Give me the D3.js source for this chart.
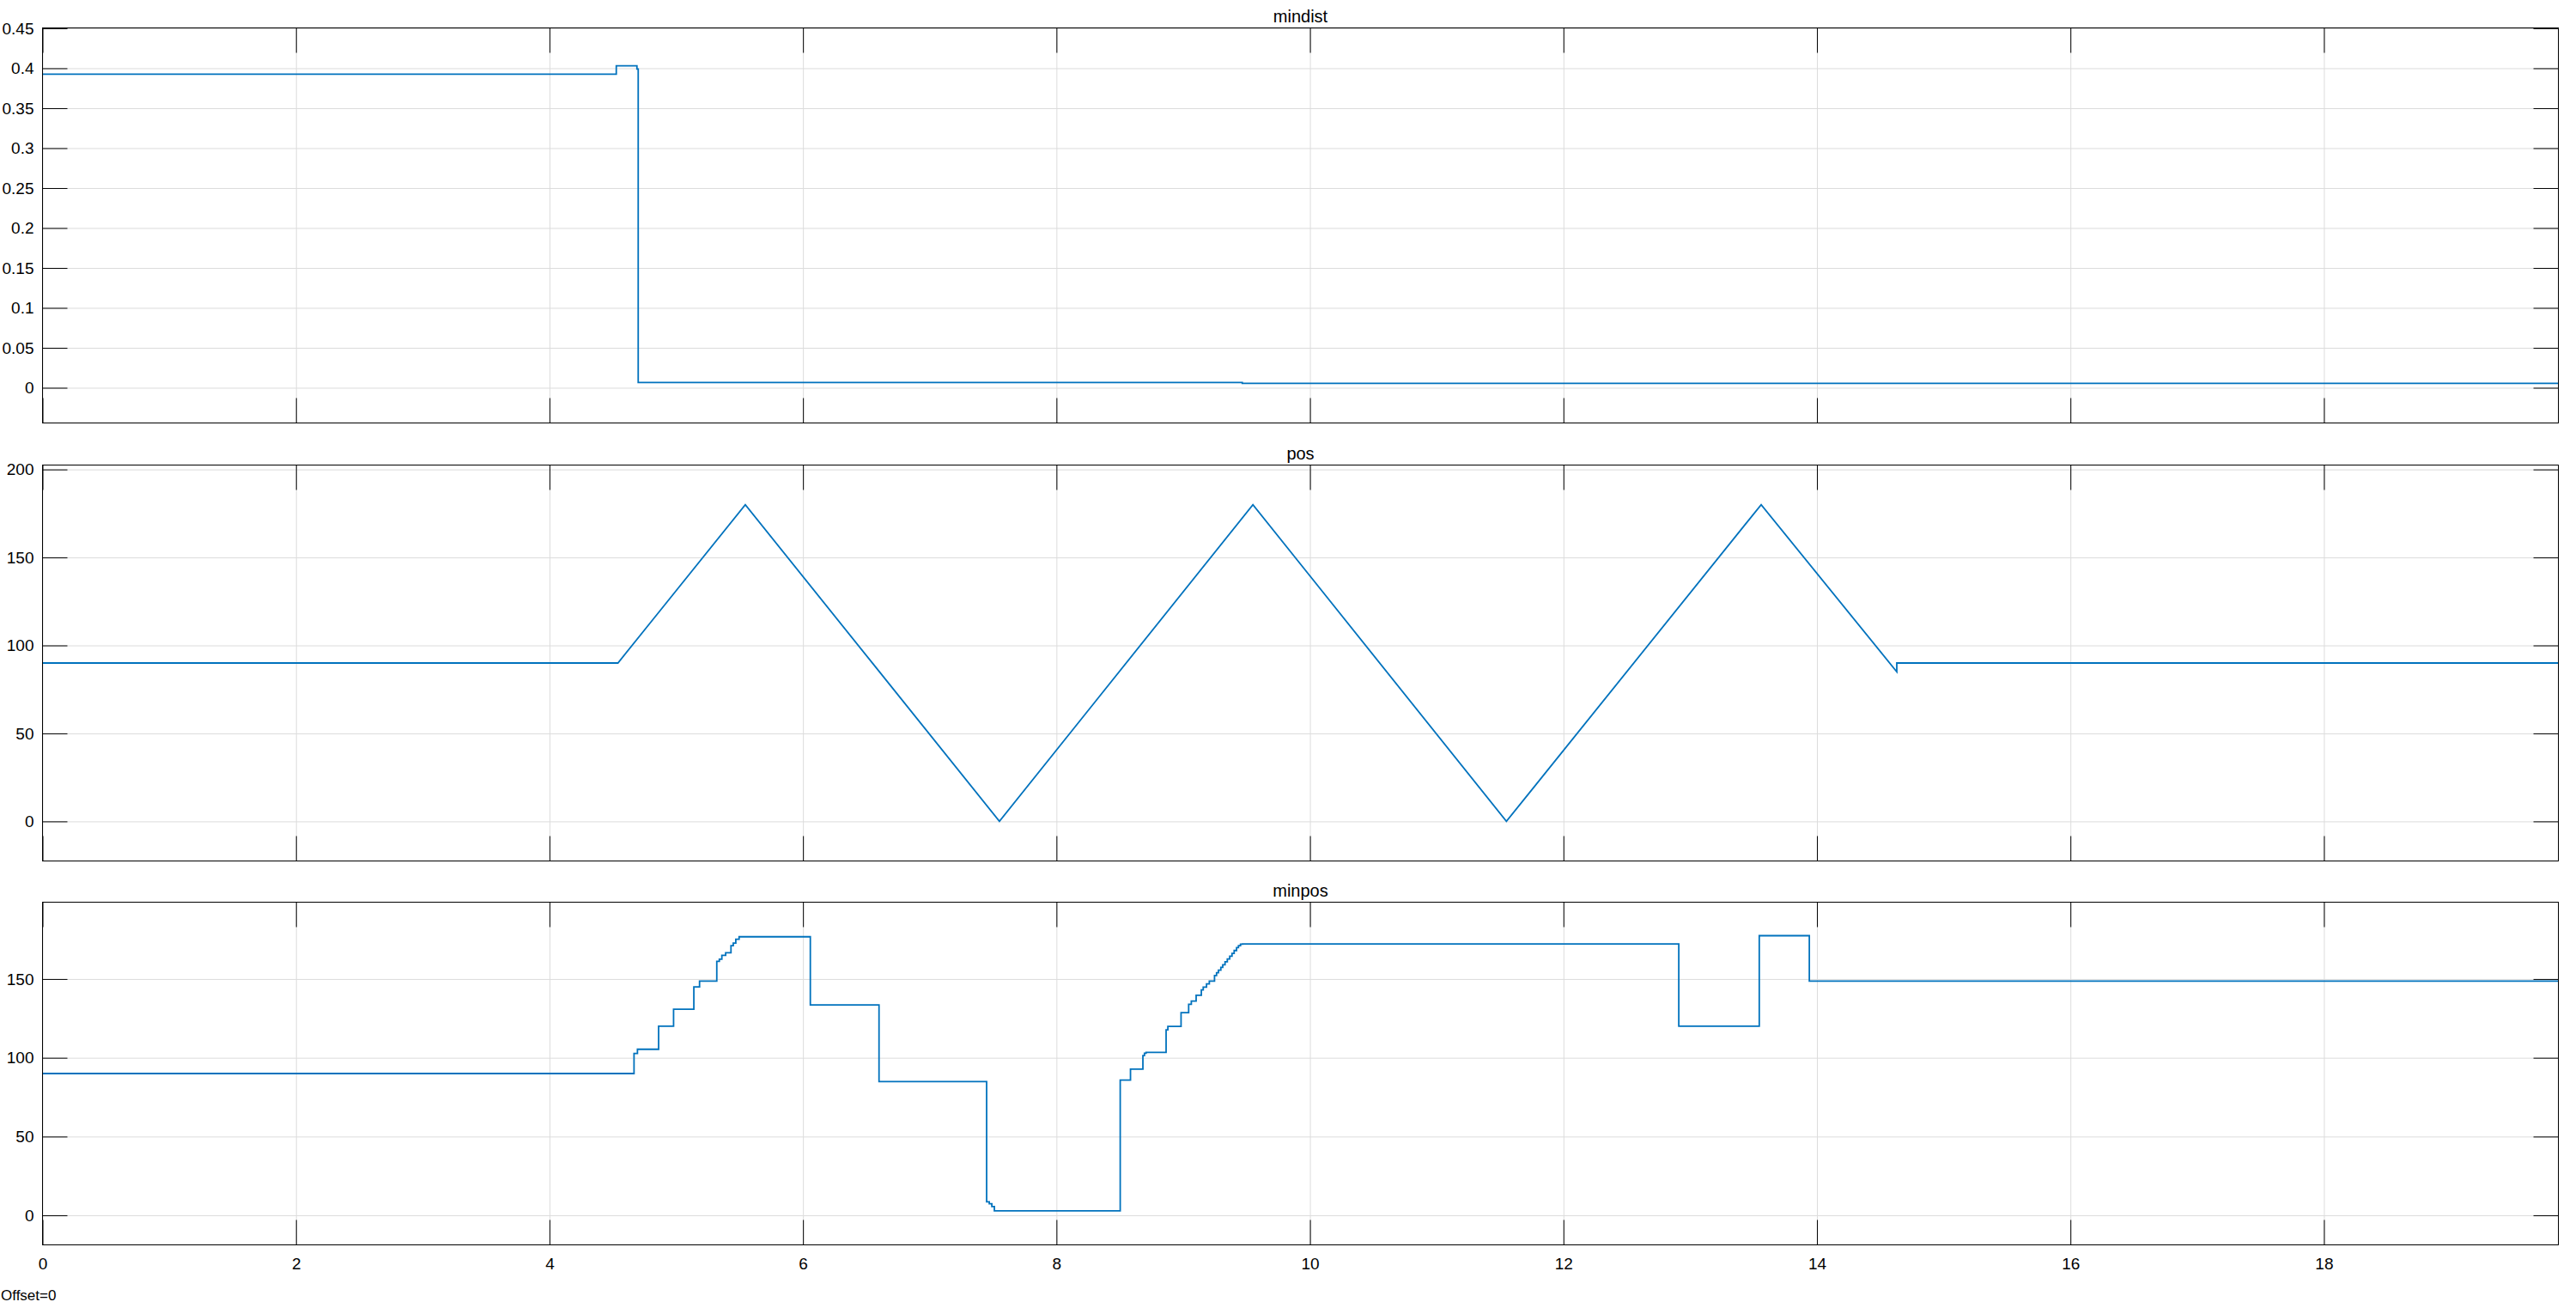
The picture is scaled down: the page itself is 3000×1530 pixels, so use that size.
<!DOCTYPE html>
<html>
<head>
<meta charset="utf-8">
<script src="https://cdn.jsdelivr.net/npm/d3@7"></script>
<style>
  html, body { margin: 0; padding: 0; background: #fff; }
  svg { display: block; font-family: "Liberation Sans", Arial, Helvetica, sans-serif; }
</style>
</head>
<body>
<svg id="chart"></svg>
<script>
// Scope export: three stacked signals over simulation time (s)
const W = 3000, H = 1530;
const LEFT = 49.5, RIGHT = 2979.5;
const TICK_LEN = 29;
const LINE_COLOR = "#0072BD";
const GRID_COLOR = "#dcdcdc";

const T_END = 19.85;
const xTicks = [0, 2, 4, 6, 8, 10, 12, 14, 16, 18];

// mindist: [time, value], held until next point
const mindistT = [0, 4.527, 4.69, 4.70, 9.466, 19.85];
const mindistV = [0.3925, 0.403, 0.399, 0.0065, 0.0055, 0.0055];

// pos: [time, value], linear between points
const posT = [0, 4.54, 5.545, 7.55, 9.55, 11.55, 13.56, 14.63, 14.63, 19.85];
const posV = [90, 90, 180, 0, 180, 0, 180, 85, 90, 90];

// minpos: [time, value], held until next point
const minposT = [0, 4.667, 4.694, 4.861, 4.979, 5.139, 5.184, 5.320, 5.34, 5.36, 5.39,
  5.432, 5.45, 5.47, 5.496, 6.058, 6.60, 7.449, 7.47, 7.49, 7.51, 8.503, 8.584,
  8.682, 8.694, 8.707, 8.865, 8.879, 8.983, 9.043, 9.064, 9.102, 9.143, 9.158,
  9.184, 9.206, 9.247, 9.263, 9.278, 9.297, 9.312, 9.330, 9.348, 9.367, 9.385,
  9.402, 9.421, 9.436, 9.452, 9.468, 12.91, 13.545, 13.94, 19.85];
const minposV = [90, 102.7, 105.4, 120.0, 130.8, 145.0, 148.7, 161.2, 162.6, 165, 166.7,
  171.2, 172.8, 175.2, 176.8, 133.5, 84.9, 8.6, 7.4, 5.6, 2.9, 85.8, 92.8,
  101.4, 102.9, 103.4, 117.7, 119.9, 128.6, 133.9, 136.0, 139.7, 143.1, 144.9,
  146.9, 148.7, 152.2, 154.0, 155.6, 157.4, 159.0, 160.9, 162.7, 164.5, 166.3,
  168.1, 169.9, 171.2, 172.1, 172.2, 120.0, 177.5, 148.7, 148.7];

const panels = [
  { title: "mindist", t: mindistT, v: mindistV, curve: d3.curveStepAfter,
    top: 32.5, bottom: 492.5, domain: [-0.0441, 0.4505],
    yTicks: [0, 0.05, 0.1, 0.15, 0.2, 0.25, 0.3, 0.35, 0.4, 0.45], xLabels: false },
  { title: "pos", t: posT, v: posV, curve: d3.curveLinear,
    top: 541.5, bottom: 1002.5, domain: [-22.5, 202.5],
    yTicks: [0, 50, 100, 150, 200], xLabels: false },
  { title: "minpos", t: minposT, v: minposV, curve: d3.curveStepAfter,
    top: 1050.5, bottom: 1449.5, domain: [-18.75, 198.75],
    yTicks: [0, 50, 100, 150], xLabels: true },
];

const svg = d3.select("#chart").attr("width", W).attr("height", H)
  .attr("viewBox", `0 0 ${W} ${H}`);
svg.append("rect").attr("width", W).attr("height", H).attr("fill", "#fff");

const x = d3.scaleLinear().domain([0, T_END]).range([LEFT, RIGHT]);
const fmt = v => String(+v.toFixed(2));

for (const p of panels) {
  const y = d3.scaleLinear().domain(p.domain).range([p.bottom, p.top]);
  const ph = p.bottom - p.top, pw = RIGHT - LEFT;
  const g = svg.append("g");

  g.append("rect").attr("x", LEFT).attr("y", p.top).attr("width", pw).attr("height", ph)
    .attr("fill", "#fff");

  // grid
  g.append("g").attr("transform", `translate(0,${p.bottom})`)
    .call(d3.axisBottom(x).tickValues(xTicks).tickSize(-ph).tickFormat(""))
    .call(ax => ax.select(".domain").remove())
    .call(ax => ax.selectAll(".tick line").attr("stroke", GRID_COLOR));
  g.append("g").attr("transform", `translate(${LEFT},0)`)
    .call(d3.axisLeft(y).tickValues(p.yTicks).tickSize(-pw).tickFormat(""))
    .call(ax => ax.select(".domain").remove())
    .call(ax => ax.selectAll(".tick line").attr("stroke", GRID_COLOR));

  // signal
  const line = d3.line().x(i => x(p.t[i])).y(i => y(p.v[i])).curve(p.curve);
  g.append("path").datum(d3.range(p.t.length))
    .attr("d", line).attr("fill", "none")
    .attr("stroke", LINE_COLOR).attr("stroke-width", 1.8)
    .attr("stroke-linejoin", "miter");

  // inward ticks on all four sides
  const styleAx = ax => {
    ax.select(".domain").remove();
    ax.selectAll(".tick line").attr("stroke", "#000");
    ax.selectAll(".tick text").attr("fill", "#000").attr("font-size", 19)
      .attr("font-family", "Liberation Sans, Arial, sans-serif");
  };
  g.append("g").attr("transform", `translate(${LEFT},0)`)
    .call(d3.axisLeft(y).tickValues(p.yTicks).tickSizeInner(-TICK_LEN).tickSizeOuter(0)
      .tickPadding(10).tickFormat(fmt))
    .call(styleAx);
  g.append("g").attr("transform", `translate(${RIGHT},0)`)
    .call(d3.axisRight(y).tickValues(p.yTicks).tickSizeInner(-TICK_LEN).tickSizeOuter(0)
      .tickFormat(""))
    .call(styleAx);
  g.append("g").attr("transform", `translate(0,${p.top})`)
    .call(d3.axisTop(x).tickValues(xTicks).tickSizeInner(-TICK_LEN).tickSizeOuter(0)
      .tickFormat(""))
    .call(styleAx);
  g.append("g").attr("transform", `translate(0,${p.bottom})`)
    .call(d3.axisBottom(x).tickValues(xTicks).tickSizeInner(-TICK_LEN).tickSizeOuter(0)
      .tickPadding(15).tickFormat(p.xLabels ? d3.format("d") : ""))
    .call(styleAx);

  // box
  g.append("rect").attr("x", LEFT).attr("y", p.top).attr("width", pw).attr("height", ph)
    .attr("fill", "none").attr("stroke", "#000").attr("stroke-width", 1);

  g.append("text").attr("x", (LEFT + RIGHT) / 2).attr("y", p.top - 6.5)
    .attr("text-anchor", "middle").attr("font-size", 20).attr("fill", "#000")
    .text(p.title);
}

svg.append("text").attr("x", 1).attr("y", 1514)
  .attr("font-size", 17).attr("fill", "#000").text("Offset=0");
</script>
</body>
</html>
